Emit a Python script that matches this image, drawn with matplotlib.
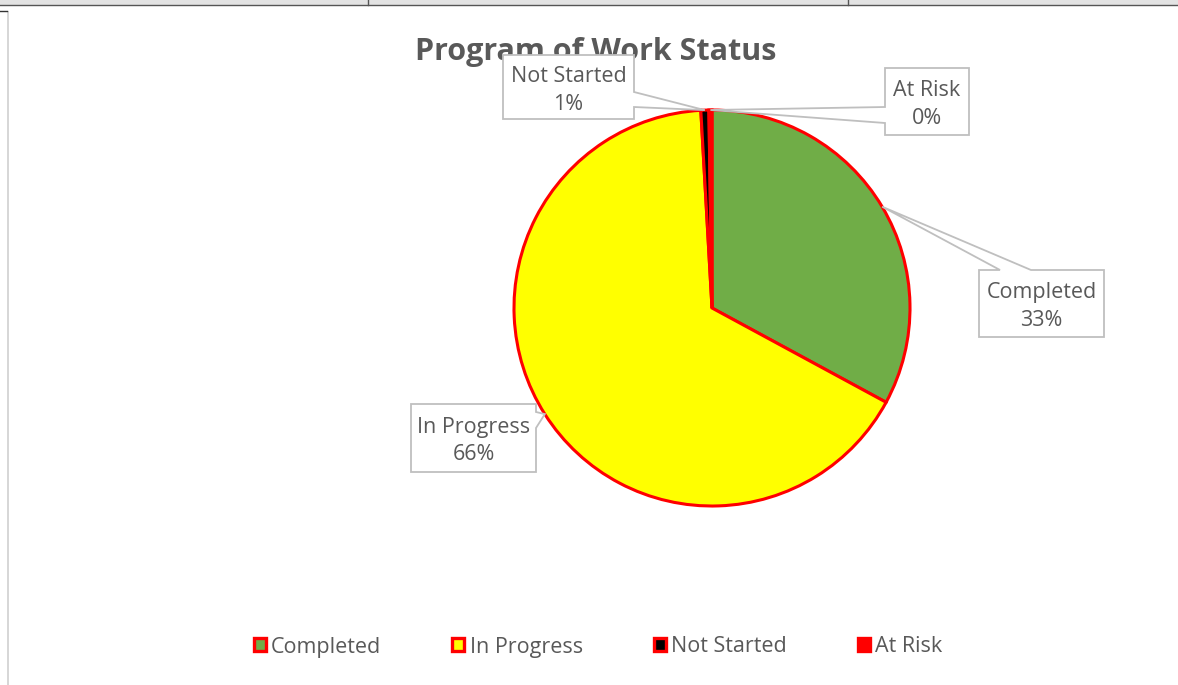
import numpy as np
import matplotlib
matplotlib.use("Agg")
import matplotlib.pyplot as plt
from matplotlib.patches import Patch, Polygon, Rectangle
from matplotlib.lines import Line2D

# ---- data ----
categories = ["Completed", "In Progress", "Not Started", "At Risk"]
values = [32.9, 66.2, 0.65, 0.25]
colors = ["#70AD47", "#FFFF00", "#000000", "#FF0000"]
title = "Program of Work Status"

W, H = 1178, 685
fig = plt.figure(figsize=(W / 100, H / 100), dpi=100)
fig.patch.set_facecolor("white")
plt.rcParams['font.family'] = ['Open Sans', 'DejaVu Sans']
TXT = "#595959"

def F(x, y):
    return (x / W, 1 - y / H)

# sheet borders (Excel cell edges)
fig.add_artist(Rectangle(F(0, 4.5), 1, 4.5 / H, transform=fig.transFigure,
                         facecolor="#e3e3e3", edgecolor="none"))
fig.add_artist(Line2D([0, 1], [F(0, 4.5)[1]] * 2, transform=fig.transFigure, color="#555555", lw=1))
for vx in (368, 848):
    fig.add_artist(Line2D([vx / W] * 2, [F(0, 0)[1], F(0, 4.5)[1]], transform=fig.transFigure,
                          color="#555555", lw=1))
fig.add_artist(Line2D([7.5 / W] * 2, [F(0, 12)[1], 0], transform=fig.transFigure, color="#d0d0d0", lw=1.2))
fig.add_artist(Line2D([0, 7 / W], [F(0, 11)[1]] * 2, transform=fig.transFigure, color="#333333", lw=1))

# pie
cx, cy, r = 712, 308, 198
ax = fig.add_axes([(cx - r) / W, 1 - (cy + r) / H, 2 * r / W, 2 * r / H])
wedges, _ = ax.pie(values, colors=colors, startangle=90, counterclock=False, radius=1,
                   wedgeprops=dict(edgecolor="#FF0000", linewidth=2.2))
ax.set_xlim(-1, 1)
ax.set_ylim(-1, 1)
ax.set_aspect("auto")
ax.axis("off")

fig.text(*F(596, 52), title, ha="center", va="center", fontsize=22,
         fontweight="bold", color=TXT)

# anchors at the middle of each wedge's arc
anchors = []
for w in wedges:
    mid = np.deg2rad((w.theta1 + w.theta2) / 2)
    anchors.append((cx + r * np.cos(mid), cy - r * np.sin(mid)))

pct = [f"{round(v / sum(values) * 100):.0f}%" for v in values]

# callout layout: box (x0,y0,x1,y1), side of pointer, notch span
layout = {
    "Completed": ((979, 270, 1104, 337), "top", (1000, 1031)),
    "In Progress": ((411, 404, 536, 472), "right", (412, 428)),
    "Not Started": ((503, 55, 634, 119), "right", (92, 107)),
    "At Risk": ((885, 68, 969, 135), "left", (107, 123)),
}

for name, p, tip in zip(categories, pct, anchors):
    (x0, y0, x1, y1), side, (a, b) = layout[name]
    if side == "top":
        pts = [(x0, y0), (a, y0), tip, (b, y0), (x1, y0), (x1, y1), (x0, y1)]
    elif side == "right":
        pts = [(x0, y0), (x1, y0), (x1, a), tip, (x1, b), (x1, y1), (x0, y1)]
    else:
        pts = [(x0, y0), (x1, y0), (x1, y1), (x0, y1), (x0, b), tip, (x0, a)]
    poly = Polygon([F(*q) for q in pts], closed=True, transform=fig.transFigure,
                   facecolor="white", edgecolor="#bfbfbf", lw=1.3, zorder=5)
    fig.add_artist(poly)
    xm = (x0 + x1) / 2
    ym = (y0 + y1) / 2
    fig.text(*F(xm, ym - 11), name, ha="center", va="center", fontsize=15.5, color=TXT, zorder=6)
    fig.text(*F(xm, ym + 17), p, ha="center", va="center", fontsize=15.5, color=TXT, zorder=6)

handles = [Patch(facecolor=c, edgecolor="#FF0000", linewidth=2.4) for c in colors]
fig.legend(handles, categories, loc="center", bbox_to_anchor=F(598, 647), ncol=4,
           frameon=False, fontsize=15.5, labelcolor=TXT, handlelength=0.55, handleheight=0.55,
           handletextpad=0.25, columnspacing=3.3, borderpad=0)

fig.savefig("out.png", dpi=100, facecolor="white")
